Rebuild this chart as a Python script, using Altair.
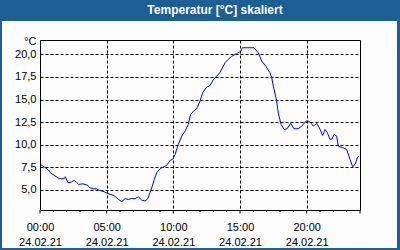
import altair as alt
import pandas as pd

# ---- data ----
hours = [0.05, 0.35, 0.6, 0.8, 1.05, 1.35, 1.58, 1.8, 1.9, 2.1, 2.35, 2.55, 2.72, 2.9,
         3.22, 3.55, 3.73, 3.98, 4.22, 4.48, 4.8, 5.1, 5.48, 5.62, 5.87, 6.13, 6.38,
         6.62, 6.88, 7.13, 7.37, 7.63, 7.88, 8.08, 8.25, 8.42, 8.57, 8.75, 8.95, 9.15,
         9.5, 9.75, 9.95, 10.13, 10.37, 10.63, 10.88, 11.12, 11.3, 11.5, 11.75, 12.0,
         12.2, 12.45, 12.75, 13.0, 13.25, 13.5, 13.88, 14.12, 14.38, 14.75, 15.08,
         15.17, 16.05, 16.37, 16.63, 16.93, 17.25, 17.38, 17.5, 17.75, 17.87, 18.08,
         18.3, 18.52, 18.8, 19.05, 19.37, 19.63, 19.95, 20.12, 20.3, 20.5, 20.75,
         20.95, 21.2, 21.38, 21.55, 21.75, 21.9, 22.05, 22.25, 22.37, 22.7, 23.0,
         23.25, 23.45, 23.63, 23.8, 23.9]
temps = [7.78, 7.48, 7.23, 6.86, 6.6, 6.3, 6.22, 6.22, 6.44, 5.78, 5.85, 6.03, 5.85, 5.59,
         5.65, 5.51, 5.22, 5.1, 5.1, 4.92, 4.78, 4.56, 4.4, 4.25, 3.95, 3.67, 4.0,
         3.92, 4.03, 4.0, 4.22, 3.85, 3.74, 4.0, 4.67, 5.4, 6.14, 6.88, 7.24, 7.44,
         7.7, 8.25, 8.36, 8.91, 10.02, 10.94, 11.5, 12.24, 13.35, 13.7, 13.98, 14.82,
         15.75, 16.3, 16.56, 17.2, 17.6, 18.0, 19.08, 19.45, 19.8, 20.1, 20.37,
         20.74, 20.74, 20.18, 19.26, 18.7, 17.97, 17.4, 16.48, 14.82, 13.5, 12.24,
         11.68, 11.75, 12.35, 11.76, 11.76, 12.05, 12.6, 12.6, 12.43, 12.05, 12.35,
         11.87, 11.02, 11.68, 11.32, 10.58, 10.62, 11.13, 10.94, 9.83, 9.66, 9.47,
         8.36, 7.55, 7.8, 8.55, 8.73]

x_ticks = [0, 5, 10, 15, 20]
x_tick_labels = ["00:00", "05:00", "10:00", "15:00", "20:00"]
date_label = "24.02.21"
y_ticks = [5.0, 7.5, 10.0, 12.5, 15.0, 17.5, 20.0]
minor_hours = list(range(0, 25))
major_hours = [0, 5, 10, 15, 20, 24]
title_text = "Temperatur [°C] skaliert"
unit_text = "°C"

BLUE = "#1d5e95"
LIGHT = "#fcfdfc"
FONT = "Liberation Sans"

df = pd.DataFrame({"h": hours, "t": temps})
ticks_df = pd.DataFrame({"h": minor_hours,
                         "major": [h in major_hours for h in minor_hours]})
one = pd.DataFrame({"label": [title_text]})

xscale = alt.Scale(domain=[0, 24], nice=False, zero=False)
yscale = alt.Scale(domain=[2.75, 21.6], nice=False, zero=False)

# x label expression built from the lists
expr = "''"
for v, lab in reversed(list(zip(x_ticks, x_tick_labels))):
    expr = f"datum.value == {v} ? ['{lab}', '{date_label}'] : ({expr})"

line = alt.Chart(df).mark_line(color="#0000ff", strokeWidth=1, clip=True).encode(
    x=alt.X("h:Q", scale=xscale,
            axis=alt.Axis(values=x_ticks, labelExpr=expr, ticks=False, domain=False,
                          grid=True, gridColor="black", gridDash=[3, 2], gridWidth=1,
                          gridOpacity=1, labelFont=FONT, labelFontSize=11,
                          labelColor="#000000", labelPadding=11, labelLineHeight=15,
                          labelFlush=False, labelOverlap=False, title=None)),
    y=alt.Y("t:Q", scale=yscale,
            axis=alt.Axis(values=y_ticks,
                          labelExpr="replace(format(datum.value, '.1f'), '.', ',')",
                          ticks=False, domain=False, grid=True, gridColor="black",
                          gridDash=[3, 2], gridWidth=1, gridOpacity=1,
                          labelFont=FONT, labelFontSize=11, labelColor="#000000",
                          labelPadding=4, labelOverlap=False,
                          title=unit_text, titleAngle=0, titleAlign="right",
                          titleBaseline="middle", titleX=-4, titleY=1,
                          titleFont=FONT, titleFontSize=11, titleFontWeight="normal",
                          titleColor="#000000")),
)

minor = alt.Chart(ticks_df).transform_filter("!datum.major").mark_rule(
    color="black", strokeWidth=1, clip=False).encode(
    x=alt.X("h:Q", scale=xscale), y=alt.value(170), y2=alt.value(172))
major = alt.Chart(ticks_df).transform_filter("datum.major").mark_rule(
    color="black", strokeWidth=1, clip=False).encode(
    x=alt.X("h:Q", scale=xscale), y=alt.value(170), y2=alt.value(173.5))

bar = alt.Chart(one).mark_rect(color=BLUE, clip=False).encode(
    x=alt.value(-40), x2=alt.value(360), y=alt.value(-40), y2=alt.value(-19))
left_b = alt.Chart(one).mark_rect(color=BLUE, clip=False).encode(
    x=alt.value(-40), x2=alt.value(-38), y=alt.value(-19), y2=alt.value(210))
right_b = alt.Chart(one).mark_rect(color=BLUE, clip=False).encode(
    x=alt.value(357), x2=alt.value(360), y=alt.value(-19), y2=alt.value(210))
bottom_b = alt.Chart(one).mark_rect(color=BLUE, clip=False).encode(
    x=alt.value(-40), x2=alt.value(360), y=alt.value(208), y2=alt.value(210))

title = alt.Chart(one).mark_text(color="white", font=FONT, fontSize=12,
                                 fontWeight="bold", align="center",
                                 baseline="middle", clip=False).encode(
    x=alt.value(175), y=alt.value(-30), text="label:N")

chart = alt.layer(bar, left_b, right_b, bottom_b, title, minor, major, line).properties(
    width=320, height=170,
    padding={"left": 40, "top": 40, "right": 40, "bottom": 40},
    autosize=alt.AutoSizeParams(type="none"),
    background=LIGHT,
).configure_view(stroke="black", strokeWidth=1, fill=LIGHT)

chart.save("out.html", embed_options={"renderer": "svg", "actions": False})
